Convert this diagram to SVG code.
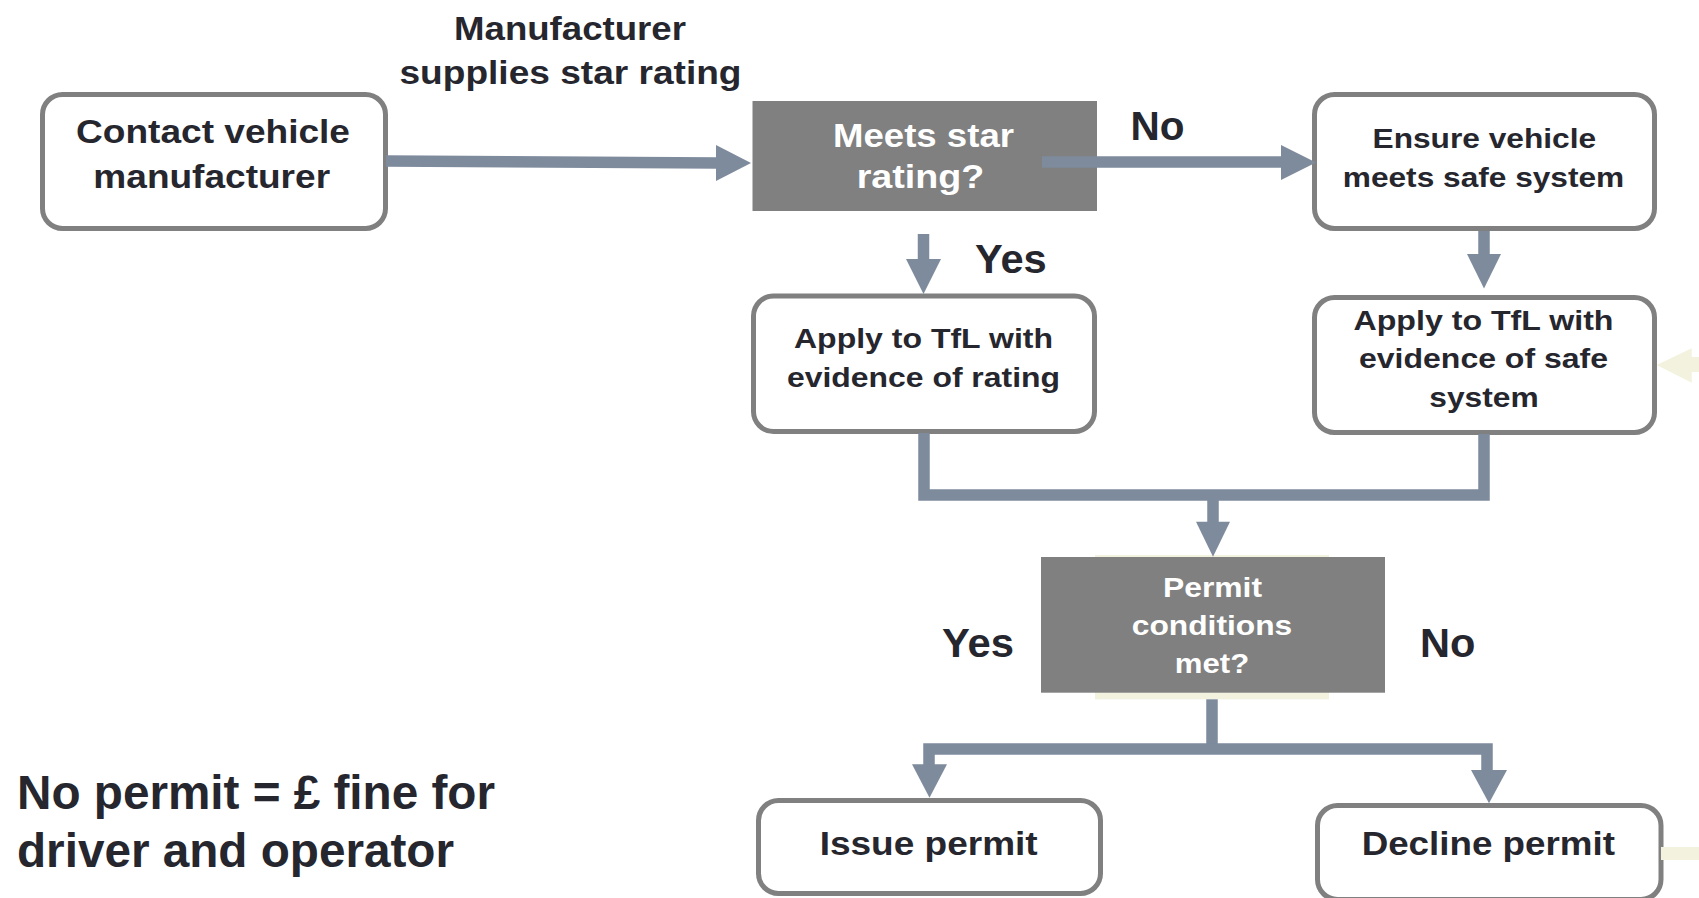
<svg xmlns="http://www.w3.org/2000/svg" width="1699" height="898" viewBox="0 0 1699 898">
<style>
text{font-family:"Liberation Sans",Arial,Helvetica,sans-serif;font-weight:bold;fill:#26262E}
.c{text-anchor:middle}
.w{fill:#FFFFFF}
.box{fill:#FFFFFF;stroke:#808080;stroke-width:5}
.dec{fill:#808080}
.ln{fill:none;stroke:#7E8B9D;stroke-width:11.5;stroke-linejoin:miter;stroke-linecap:butt}
.hd{fill:#7E8B9D}
.cream{fill:#F2F2DF}
</style>
<rect width="1699" height="898" fill="#FFFFFF"/>

<g id="label-manufacturer">
  <text class="c" x="570" y="39.5" font-size="33" textLength="232" lengthAdjust="spacingAndGlyphs">Manufacturer</text>
  <text class="c" x="570.5" y="83.5" font-size="33" textLength="342" lengthAdjust="spacingAndGlyphs">supplies star rating</text>
</g>

<g id="node-contact">
  <rect class="box" x="42.5" y="94.5" width="343" height="134" rx="20"/>
  <text class="c" x="213" y="143" font-size="33" textLength="274" lengthAdjust="spacingAndGlyphs">Contact vehicle</text>
  <text class="c" x="211.7" y="188" font-size="33" textLength="236.7" lengthAdjust="spacingAndGlyphs">manufacturer</text>
</g>

<g id="node-meets-star">
  <rect class="dec" x="752.5" y="101" width="344.5" height="110"/>
  <text class="c w" x="923.5" y="146.7" font-size="33" textLength="181" lengthAdjust="spacingAndGlyphs">Meets star</text>
  <text class="c w" x="920.5" y="188.3" font-size="33" textLength="127.7" lengthAdjust="spacingAndGlyphs">rating?</text>
</g>

<g id="label-no-top">
  <text x="1130.5" y="140" font-size="40" textLength="54" lengthAdjust="spacingAndGlyphs">No</text>
</g>

<g id="node-ensure">
  <rect class="box" x="1314.5" y="94.5" width="340" height="134" rx="20"/>
  <text class="c" x="1484.3" y="148.3" font-size="28.5" textLength="223.6" lengthAdjust="spacingAndGlyphs">Ensure vehicle</text>
  <text class="c" x="1483.5" y="186.7" font-size="28.5" textLength="281.5" lengthAdjust="spacingAndGlyphs">meets safe system</text>
</g>

<g id="label-yes-top">
  <text x="975" y="273.3" font-size="40" textLength="71.7" lengthAdjust="spacingAndGlyphs">Yes</text>
</g>

<g id="node-apply-rating">
  <rect class="box" x="753.5" y="296" width="341" height="135.5" rx="20"/>
  <text class="c" x="923.5" y="348.3" font-size="28.5" textLength="259" lengthAdjust="spacingAndGlyphs">Apply to TfL with</text>
  <text class="c" x="923.5" y="386.7" font-size="28.5" textLength="273" lengthAdjust="spacingAndGlyphs">evidence of rating</text>
</g>

<g id="node-apply-safe">
  <rect class="box" x="1314.5" y="297.5" width="340" height="135" rx="20"/>
  <text class="c" x="1483.5" y="330" font-size="28.5" textLength="260" lengthAdjust="spacingAndGlyphs">Apply to TfL with</text>
  <text class="c" x="1483.5" y="368.3" font-size="28.5" textLength="249" lengthAdjust="spacingAndGlyphs">evidence of safe</text>
  <text class="c" x="1484" y="406.7" font-size="28.5" textLength="109.4" lengthAdjust="spacingAndGlyphs">system</text>
</g>

<g id="cream-arrow-right">
  <polygon class="cream" points="1656.7,365 1691.7,348.3 1691.7,357 1699,357 1699,372 1691.7,372 1691.7,382.7"/>
</g>

<g id="node-permit">
  <rect class="cream" x="1095" y="555" width="234" height="144.3"/>
  <rect class="dec" x="1041" y="557" width="344" height="135.7"/>
  <text class="c w" x="1212.5" y="596.7" font-size="28.5" textLength="99" lengthAdjust="spacingAndGlyphs">Permit</text>
  <text class="c w" x="1212" y="635" font-size="28.5" textLength="160.5" lengthAdjust="spacingAndGlyphs">conditions</text>
  <text class="c w" x="1212" y="673.3" font-size="28.5" textLength="74.4" lengthAdjust="spacingAndGlyphs">met?</text>
</g>

<g id="label-yes-mid">
  <text x="942" y="656.7" font-size="40" textLength="72" lengthAdjust="spacingAndGlyphs">Yes</text>
</g>
<g id="label-no-mid">
  <text x="1420" y="656.7" font-size="40" textLength="55.4" lengthAdjust="spacingAndGlyphs">No</text>
</g>

<g id="node-issue">
  <rect class="box" x="758.5" y="800.5" width="342" height="93" rx="20"/>
  <text class="c" x="928.7" y="854.5" font-size="33" textLength="218" lengthAdjust="spacingAndGlyphs">Issue permit</text>
</g>

<g id="node-decline">
  <rect class="box" x="1317.5" y="805.5" width="343.5" height="94" rx="20"/>
  <text class="c" x="1488.3" y="854.5" font-size="33" textLength="253.3" lengthAdjust="spacingAndGlyphs">Decline permit</text>
</g>

<g id="cream-bar-right">
  <rect class="cream" x="1661" y="847" width="38" height="13"/>
</g>

<g id="note">
  <text x="17" y="809.3" font-size="48" textLength="478" lengthAdjust="spacingAndGlyphs">No permit = £ fine for</text>
  <text x="17" y="867.3" font-size="48" textLength="437" lengthAdjust="spacingAndGlyphs">driver and operator</text>
</g>

<g id="connectors">
  <path class="ln" d="M386,161 L718,163" stroke-width="11"/>
  <polygon class="hd" points="716,145 751,163 716,181"/>
  <path class="ln" d="M1042,162 H1283" stroke-width="12"/>
  <polygon class="hd" points="1281,145 1316,162.5 1281,180"/>
  <path class="ln" d="M923.5,234 V261" stroke-width="13"/>
  <polygon class="hd" points="906,259 941,259 923.5,294"/>
  <path class="ln" d="M1484,231 V256" stroke-width="12.5"/>
  <polygon class="hd" points="1467,254 1501,254 1484,288.5"/>
  <path class="ln" d="M924,433 V495 H1484 V434"/>
  <path class="ln" d="M1213,495 V524" stroke-width="10.5"/>
  <polygon class="hd" points="1196,521.7 1230,521.7 1213,556.7"/>
  <path class="ln" d="M1212,699.3 V749"/>
  <path class="ln" d="M929,767 V749 H1487 V772"/>
  <polygon class="hd" points="912,764.3 947,764.3 929.5,797.7"/>
  <polygon class="hd" points="1471,770 1507,770 1489,803.3"/>
</g>
</svg>
